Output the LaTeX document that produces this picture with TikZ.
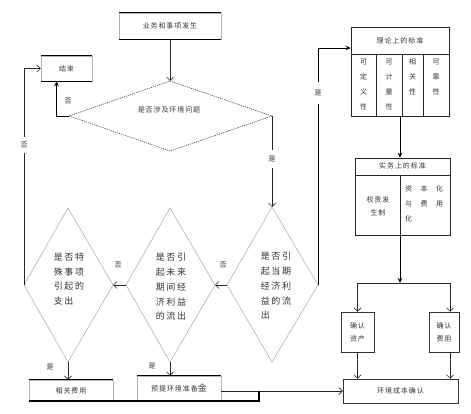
\documentclass[tikz,border=0pt]{standalone}
\usepackage{fontspec}
\setmainfont{Noto Sans CJK SC}
\usetikzlibrary{arrows.meta}
\begin{document}
\begin{tikzpicture}[x=1pt,y=-1pt,
  txt/.style={inner sep=0pt, text=black!80, font=\fontsize{7}{9}\selectfont\addfontfeature{LetterSpace=13}},
  box/.style={txt, draw=gray!60, line width=0.5pt},
  dtxt/.style={inner sep=0pt, text=black!80, align=left, font=\fontsize{9}{14.8}\selectfont\addfontfeature{LetterSpace=18}},
  coltxt/.style={inner sep=0pt, text=black!80, align=center, anchor=north, font=\fontsize{7}{15}\selectfont},
  dia/.style={draw=gray!70, line width=0.5pt},
  diadash/.style={draw=black!85, line width=0.5pt, dash pattern=on 1.2pt off 1pt},
  topline/.style={draw=black, line width=1.4pt},
  botline/.style={draw=black, line width=0.8pt},
  arr/.style={draw=black!85, line width=0.6pt, -{Straight Barb[length=3.5pt,width=7pt]}},
  farr/.style={draw=black, line width=0.9pt, -{Stealth[length=5pt,width=4.5pt]}},
  lab/.style={fill=white, inner xsep=2pt, inner ysep=1pt, text=black!80, font=\fontsize{7}{8}\selectfont},
  onlab/.style={lab, inner ysep=6pt}]
\useasboundingbox (0,0) rectangle (471,414);

% top boxes
\node[box, minimum width=102, minimum height=26] (start) at (170,26) {业务和事项发生};
\draw[topline] (start.north west) -- (start.north east);
\draw[botline] (start.south west) -- (start.south east);
\node[box, minimum width=51, minimum height=25] (end) at (66.5,68.5) {结束};
\draw[topline] (end.north west) -- (end.north east);
\draw[botline] (end.south west) -- (end.south east);

% diamond A
\coordinate (At) at (170,81);
\coordinate (Ar) at (272,116);
\coordinate (Ab) at (170,151);
\coordinate (Al) at (69,116);
\draw[diadash] (At) -- (Ar) -- (Ab) -- (Al) -- cycle;
\node[txt] (Atext) at (169,110) {是否涉及环境问题};

% diamond B
\coordinate (Bt) at (272,207);
\coordinate (Br) at (318,285);
\coordinate (Bb) at (272,362);
\coordinate (Bl) at (227,285);
\draw[dia] (Bt) -- (Br) -- (Bb) -- (Bl) -- cycle;
\node[dtxt] (Btext) at (276,286) {是否引\\起当期\\经济利\\益的流\\出};

% diamond C
\coordinate (Ct) at (170,208);
\coordinate (Cr) at (215,285);
\coordinate (Cb) at (170,362);
\coordinate (Cl) at (126,285);
\draw[dia] (Ct) -- (Cr) -- (Cb) -- (Cl) -- cycle;
\node[dtxt] (Ctext) at (171,287) {是否引\\起未来\\期间经\\济利益\\的流出};

% diamond D
\coordinate (Dt) at (68,208);
\coordinate (Dr) at (113,285);
\coordinate (Db) at (68,362);
\coordinate (Dl) at (24,285);
\draw[dia] (Dt) -- (Dr) -- (Db) -- (Dl) -- cycle;
\node[dtxt] (Dtext) at (69,279) {是否特\\殊事项\\引起的\\支出};

% bottom boxes
\node[box, minimum width=84, minimum height=21] (rel) at (71,390.5) {相关费用};
\draw[botline] (rel.north west) -- (rel.north east);
\node[box, minimum width=84, minimum height=24] (prov) at (179,388) {预提环境准备{\fontsize{9}{9}\selectfont 金}};
\draw[botline] (prov.north west) -- (prov.north east);
\node[box, draw=black!80, minimum width=115, minimum height=24] (env) at (400.5,391) {环境成本确认};
\node[box, draw=black!80, minimum width=33, minimum height=40, align=center, font=\fontsize{7}{13}\selectfont\addfontfeature{LetterSpace=13}] (assets) at (357.5,332) {确认\\资产};
\node[box, draw=black!80, minimum width=30, minimum height=40, align=center, font=\fontsize{7}{13}\selectfont\addfontfeature{LetterSpace=13}] (expense) at (444,332) {确认\\费用};

% theory table
\node[draw=black!85, line width=0.6pt, minimum width=98, minimum height=89, inner sep=0pt] (theory) at (400,71.5) {};
\draw[black!85, line width=0.6pt] (351,54) -- (449,54);
\draw[black!85, line width=0.6pt] (376,54) -- (376,116);
\draw[black!85, line width=0.6pt] (402,54) -- (402,116);
\draw[black!85, line width=0.6pt] (423,54) -- (423,116);
\node[txt] (theoryh) at (400,41) {理论上的标准};
\node[coltxt] (c1) at (363.5,58.5) {可\\定\\义\\性};
\node[coltxt] (c2) at (389,58.5) {可\\计\\量\\性};
\node[coltxt] (c3) at (412.5,58.5) {相\\关\\性};
\node[coltxt] (c4) at (436,58.5) {可\\靠\\性};

% practice table
\node[draw=black!85, line width=0.6pt, minimum width=95, minimum height=77, inner sep=0pt] (practice) at (402.5,196.5) {};
\draw[black!85, line width=0.6pt] (355,175) -- (450,175);
\draw[black!85, line width=0.6pt] (400,175) -- (400,235);
\node[txt] (practiceh) at (402.5,166) {实务上的标准};
\node[txt, align=center, font=\fontsize{7}{13}\selectfont\addfontfeature{LetterSpace=13}] (p1) at (378,206.5) {权责发\\生制};
\node[coltxt, anchor=north west, font=\fontsize{7}{15}\selectfont] (p2) at (405,180.5) {%
  \begin{tabular}{@{}l@{\hspace{8.5pt}}l@{\hspace{8.5pt}}l@{}}资&本&化\\与&费&用\\化&&\end{tabular}};

% connectors
\draw[arr] (start.south) -- (At);
\draw[farr] (Al) -| ([xshift=-10pt]end.south);
\node[lab] (no1) at (68,101) {否};
\draw[arr] (Ar) -- (Bt);
\node[onlab] (yes1) at (272,159) {是};
\draw[farr] (Br) -- (Br |- 0,48) -- ([yshift=23.5pt]theory.west);
\node[onlab, inner ysep=8pt] (yes2) at (318,93) {是};
\draw[arr] (Bl) -- (Cr);
\node[lab] (no2) at (223,265) {否};
\draw[arr] (Cl) -- (Dr);
\node[lab] (no3) at (118,265) {否};
\draw[arr] (Dl) -- (Dl |- end.west) -- (end.west);
\node[onlab, inner ysep=5pt] (no4) at (24,145) {否};
\draw[arr] (Db) -- (Db |- rel.north);
\node[lab, fill=none] (yes3) at (50,367) {是};
\draw[arr] (Cb) -- (Cb |- prov.north);
\node[lab, fill=none] (yes4) at (152,366) {是};

\draw[farr] (theory.south) -- (theory.south |- practice.north);
\coordinate (j) at (400,283);
\draw[farr] (practice.south -| j) -- (j);
\draw[arr] (j) -| (assets.north);
\draw[arr] (j) -| ([xshift=6pt]expense.north);
\draw[arr] (assets.south) -- (assets.south |- env.north);
\draw[arr] ([xshift=6pt]expense.south) -- ([xshift=6pt]expense.south |- env.north);

\draw[arr] ([yshift=-3pt]prov.east) -- (env.west);
\coordinate (k) at (259,391);
\draw[black, line width=1.6pt] (rel.south west) -- (rel.south east) -- (k |- rel.south east) -- (k);
\end{tikzpicture}
\end{document}
